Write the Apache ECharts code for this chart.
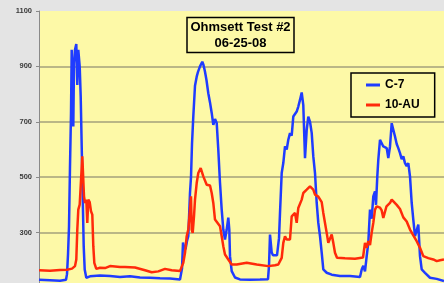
<!DOCTYPE html>
<html>
<head>
<meta charset="utf-8">
<script src="https://cdn.jsdelivr.net/npm/echarts@6/dist/echarts.min.js"></script>
<style>
  html, body { margin: 0; padding: 0; background: #e4e4e4; }
  #chart { width: 444px; height: 283px; }
</style>
</head>
<body>
<div id="chart"></div>
<script>
// Readings taken off the trace (time in sample units, fluorometer response)
const c7Time = [39, 50, 60, 66, 67, 68, 69, 70, 71, 71.7, 72.7, 73.3, 74, 75, 76.3, 77.3, 78.3, 79.7, 80.7, 81.7, 82.7, 83.7, 84.7, 86.3,
  90, 100, 110, 120, 130, 140, 150, 160, 170, 180,
  181, 182, 183, 184, 185.5, 187, 188.3, 190, 191, 192, 193.3, 195, 196.7, 198, 200, 202.3, 203.5, 205, 206.5, 208.3, 210, 211.7,
  213.3, 215, 216.7, 218.3, 220, 221.7, 223.3, 225, 226.7, 228.3, 229.3, 230, 231.7, 235, 240, 250, 260, 268,
  269, 270, 271.7, 273, 275, 277, 278.3, 279, 280, 281.7, 283.3, 285, 286.7, 288.3, 290, 291.7, 293.3, 295, 296.7, 298.3, 300,
  301.7, 303.3, 305, 306.7, 308.3, 310, 311.7, 313.3, 315, 316.7, 318.3, 320, 321.7, 323.3, 326.7, 331.7, 340, 350, 360,
  361.7, 363.3, 365, 366.7, 368.3, 370, 371.7, 373.3, 375, 376, 377.3, 378.3, 380, 381.7, 383.3, 386.7, 388.3, 390, 391.7,
  393.3, 395, 396.7, 398.3, 400, 401.7, 403.3, 405, 406.7, 408.3, 410, 411.7, 413.3, 415, 416.7, 418.3, 420, 421.7, 425,
  430, 436.7, 444];
const c7Value = [130, 128, 126, 130, 150, 220, 320, 540, 730, 960, 955, 683, 912, 960, 981, 833, 960, 900, 791, 611, 431, 251, 167, 137,
  142, 145, 143, 140, 142, 138, 137, 135, 134, 131,
  135, 170, 264, 250, 240, 270, 287, 444, 500, 620, 719, 830, 863, 880, 900, 917, 905, 881, 850, 803, 770, 732,
  689, 710, 696, 599, 480, 383, 311, 275, 311, 354, 311, 215, 161, 138, 131, 130, 131, 132,
  180, 293, 228, 218, 215, 218, 222, 280, 371, 515, 551, 611, 600, 635, 659, 650, 719, 728, 737, 755, 779,
  806, 760, 569, 671, 719, 700, 660, 575, 515, 407, 335, 287, 228, 167, 155, 148, 143, 143, 140,
  167, 180, 160, 215, 263, 383, 350, 431, 449, 400, 503, 563, 635, 630, 611, 605, 569, 611, 695,
  690, 647, 620, 605, 587, 565, 575, 551, 540, 551, 503, 407, 347, 287, 280, 329, 215, 167, 155,
  137, 133, 125];

const auTime = [39, 50, 60, 67, 72, 75, 76.3, 77.3, 78.3, 79.7, 81, 82.3, 83.3, 84, 85, 86.3, 87.3, 88.3, 89.7, 91, 92.3, 93.3, 94.3, 96.3,
  100, 105, 110, 120, 125, 135, 145, 151.7, 158.3, 165, 171.7, 180,
  181.7, 183.3, 185, 186.7, 188.3, 190, 191, 191.7, 192.7, 194, 195, 196.7, 198.3, 200.7, 203.3, 205, 206.7, 210, 211.7, 213.3,
  215, 216.7, 220, 221.7, 223.3, 225, 228.3, 231.7, 236.7, 246.7, 256.7, 268.3,
  275, 278.3, 280, 281.7, 283.3, 285, 286.7, 290, 291.7, 295, 296.7, 298.3, 301.7, 303.3, 306.7, 310, 313.3, 315, 318.3, 321.7,
  323.3, 326.7, 328.3, 330, 331.7, 333.3, 335, 337, 345, 355, 363,
  365, 366.7, 368.3, 370, 371.7, 373.3, 375, 376.7, 380, 381.7, 383.3, 385, 386.5, 388.3, 390, 391.7, 393.3, 396.7, 400, 403.3,
  406.7, 410, 413.3, 416.7, 420, 423.3, 428.3, 433.3, 436.7, 440, 444];
const auValue = [164, 162, 165, 166, 170, 179, 203, 311, 383, 401, 397, 575, 570, 431, 407, 419, 335, 419, 410, 377, 365, 251, 191, 169,
  173, 172, 179, 176, 176, 174, 164, 157, 160, 169, 164, 161,
  165, 191, 227, 287, 311, 383, 431, 311, 299, 359, 419, 479, 515, 533, 503, 497, 473, 470, 443, 407,
  347, 345, 323, 287, 251, 221, 203, 185, 185, 191, 185, 179,
  182, 185, 197, 209, 263, 287, 275, 275, 359, 371, 335, 389, 419, 443, 455, 467, 455, 437, 430, 410,
  371, 299, 263, 270, 293, 263, 227, 209, 207, 206, 210,
  263, 245, 270, 255, 300, 335, 383, 395, 390, 380, 353, 353, 395, 400, 407, 419, 420, 400, 385, 355,
  340, 311, 290, 269, 245, 215, 208, 203, 197, 200, 203];

const yTicks = [100, 300, 500, 700, 900, 1100];
const seriesNames = ['C-7', '10-AU'];
const chartTitle = 'Ohmsett Test #2\n06-25-08';

const chart = echarts.init(document.getElementById('chart'));

const pairs = (t, v) => t.map((x, i) => [x, v[i]]);

chart.setOption({
  backgroundColor: '#e4e4e4',
  animation: false,
  grid: {
    left: 39,
    top: 11,
    width: 405,
    height: 277,
    outerBoundsMode: 'none',
    containLabel: false,
    show: true,
    backgroundColor: '#fdf9a7',
    borderWidth: 0
  },
  xAxis: {
    type: 'value',
    min: 39,
    max: 444,
    show: false
  },
  yAxis: {
    type: 'value',
    min: yTicks[0],
    max: yTicks[yTicks.length - 1],
    interval: yTicks[1] - yTicks[0],
    axisLine: { show: true, lineStyle: { color: '#8a8a8a', width: 1 } },
    axisTick: { show: true, length: 3, lineStyle: { color: '#8a8a8a' } },
    axisLabel: {
      margin: 7,
      fontSize: 7.5,
      fontWeight: 'bold',
      fontFamily: 'Liberation Sans, Arial, sans-serif',
      color: '#3a3a3a',
      formatter: v => String(v)
    },
    splitLine: {
      show: true,
      showMaxLine: false,
      lineStyle: { color: '#a3a17b', width: 1.5 }
    }
  },
  legend: {
    orient: 'vertical',
    left: 351,
    top: 73,
    padding: [6, 15, 6, 15],
    itemGap: 8,
    itemWidth: 14,
    itemHeight: 3,
    borderColor: '#000',
    borderWidth: 1.5,
    icon: 'rect',
    data: seriesNames,
    textStyle: {
      fontSize: 12,
      fontWeight: 'bold',
      fontFamily: 'Liberation Sans, Arial, sans-serif',
      color: '#000'
    }
  },
  graphic: [
    {
      type: 'rect',
      shape: { x: 187, y: 17.5, width: 107, height: 35 },
      style: { fill: 'none', stroke: '#000', lineWidth: 1.5 },
      z: 10
    },
    {
      type: 'text',
      x: 240.5,
      y: 35,
      style: {
        text: chartTitle,
        align: 'center',
        verticalAlign: 'middle',
        font: 'bold 13px "Liberation Sans", Arial, sans-serif',
        lineHeight: 16,
        fill: '#000'
      },
      z: 10
    }
  ],
  series: [
    {
      name: seriesNames[0],
      type: 'line',
      data: pairs(c7Time, c7Value),
      showSymbol: false,
      color: '#1f3cff',
      lineStyle: { width: 2.5, color: '#1f3cff' },
      z: 3
    },
    {
      name: seriesNames[1],
      type: 'line',
      data: pairs(auTime, auValue),
      showSymbol: false,
      color: '#ff2a0a',
      lineStyle: { width: 2.5, color: '#ff2a0a' },
      z: 4
    }
  ]
});
</script>
</body>
</html>
